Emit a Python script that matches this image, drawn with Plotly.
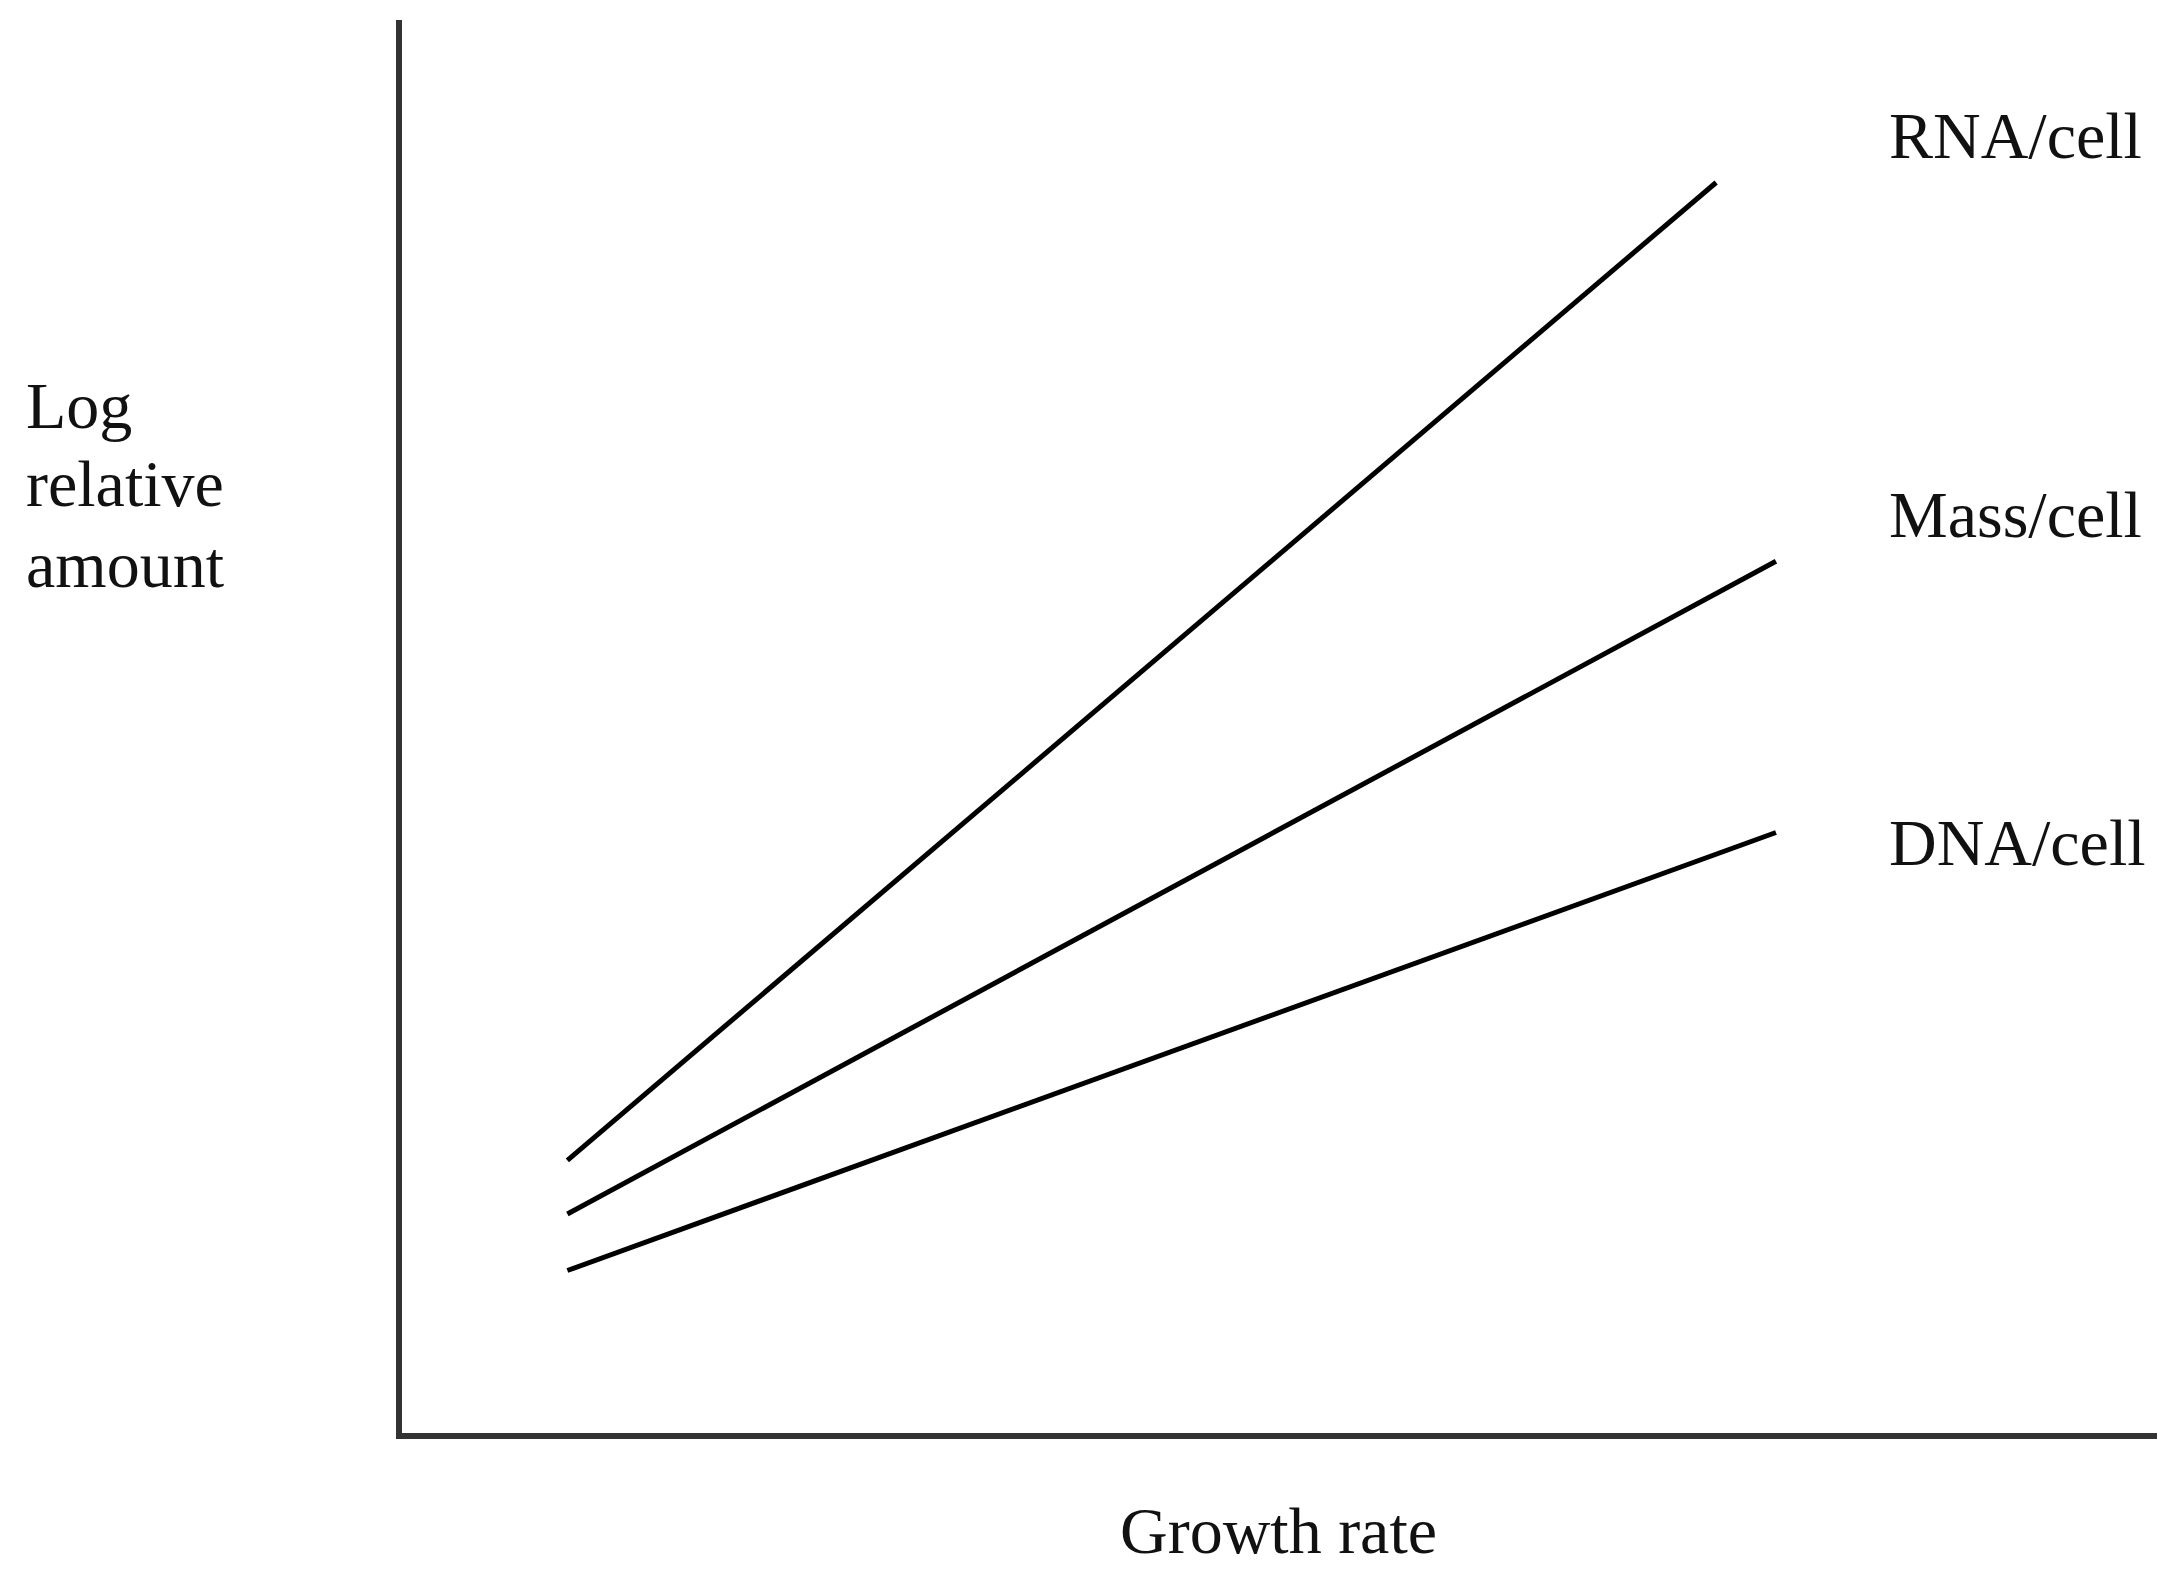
import plotly.graph_objects as go

# growth rate (arbitrary units) and log relative amounts
growth_start = 0.094
growth_end_rna = 0.747
growth_end_other = 0.781

rna_per_cell = [0.193, 0.885]
mass_per_cell = [0.155, 0.617]
dna_per_cell = [0.115, 0.425]

series_names = ["RNA/cell", "Mass/cell", "DNA/cell"]
label_y = [0.918, 0.650, 0.418]
label_x = 0.844

ytitle_lines = ["Log", "relative", "amount"]
ytitle_y = [0.727, 0.672, 0.615]

font_family = "Liberation Serif, Times New Roman, serif"
text_col = "#111111"

fig = go.Figure()
fig.add_trace(go.Scatter(x=[growth_start, growth_end_rna], y=rna_per_cell, mode="lines",
                         line=dict(color="black", width=5), name=series_names[0]))
fig.add_trace(go.Scatter(x=[growth_start, growth_end_other], y=mass_per_cell, mode="lines",
                         line=dict(color="black", width=5), name=series_names[1]))
fig.add_trace(go.Scatter(x=[growth_start, growth_end_other], y=dna_per_cell, mode="lines",
                         line=dict(color="black", width=5), name=series_names[2]))

for name, yy in zip(series_names, label_y):
    fig.add_annotation(x=label_x, y=yy, xref="x", yref="y", text=name, showarrow=False,
                       xanchor="left", yanchor="middle",
                       font=dict(family=font_family, size=66, color=text_col))

# y title as three separate lines (tighter line spacing than plotly's <br>)
for line, yy in zip(ytitle_lines, ytitle_y):
    fig.add_annotation(x=-0.214, y=yy, xref="paper", yref="paper", text=line,
                       showarrow=False, xanchor="left", yanchor="middle",
                       font=dict(family=font_family, size=66, color=text_col))

fig.add_annotation(x=0.496, y=-0.069, xref="paper", yref="paper", text="Growth rate",
                   showarrow=False, xanchor="center", yanchor="middle",
                   font=dict(family=font_family, size=66, color=text_col))

fig.update_xaxes(range=[0, 1.005], showgrid=False, zeroline=False, showticklabels=False, ticks="",
                 showline=True, linecolor="#333333", linewidth=6)
fig.update_yaxes(range=[0, 1], showgrid=False, zeroline=False, showticklabels=False, ticks="",
                 showline=True, linecolor="#333333", linewidth=6)

fig.update_layout(width=2165, height=1571, showlegend=False,
                  margin=dict(l=394, r=3, t=12, b=146),
                  plot_bgcolor="white", paper_bgcolor="white")

fig.write_html("out.html")
